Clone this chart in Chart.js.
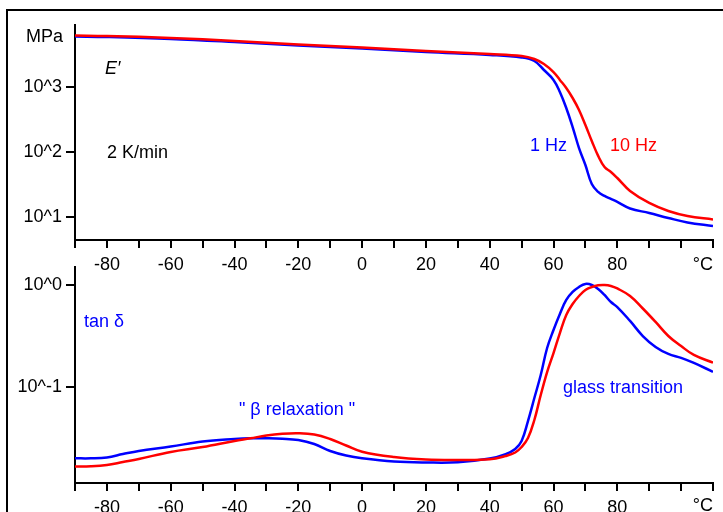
<!DOCTYPE html>
<html><head><meta charset="utf-8">
<script src="https://cdn.jsdelivr.net/npm/chart.js@4/dist/chart.umd.min.js"></script>
<style>
html,body{margin:0;padding:0;background:#fff;overflow:hidden;width:723px;height:512px;}
#frame{position:absolute;left:6px;top:9px;width:800px;height:600px;border-top:2px solid #000;border-left:2px solid #000;}
canvas{position:absolute;left:0;}
#c1{top:0}
#c2{top:245px}
</style></head><body>
<div id="frame"></div>
<canvas id="c1" width="723" height="280"></canvas>
<canvas id="c2" width="723" height="267"></canvas>
<script>
// ---- data ----
const xTickValues = [-90,-80,-70,-60,-50,-40,-30,-20,-10,0,10,20,30,40,50,60,70,80,90,100,110];
const xLabelValues = [-80,-60,-40,-20,0,20,40,60,80];
const eTemps = [-90,-80,-60,-40,-20,0,20,40,50,54,57,60,62,64,66,68,70,72,74,76,78,80,84,90,96,102,110];
const E_1Hz  = [6100,5990,5580,5010,4430,3980,3510,3160,2890,2550,1850,1300,846,479,243,115,63.0,32.0,24.1,20.9,18.8,16.9,13.4,11.4,9.55,8.14,7.18];
const E_10Hz = [6320,6210,5780,5200,4590,4120,3640,3270,3050,2740,2290,1720,1300,975,683,446,261,148,87,58.6,49.1,39.6,25.0,16.3,12.25,10.25,9.05];
const eTicks = [10,100,1000];
const tTemps = [-90,-85,-80,-75,-70,-60,-50,-40,-35,-30,-25,-20,-15,-10,-5,0,10,20,30,40,45,48,50,52,54,56,58,60,62,64,66,68,70,72,74,76,78,80,84,88,92,96,100,104,110];
const tan_1Hz  = [0.0200,0.0200,0.0204,0.0220,0.0236,0.0261,0.0292,0.0309,0.0314,0.0314,0.0311,0.0302,0.0276,0.0236,0.0213,0.0200,0.0186,0.0182,0.0183,0.0199,0.0220,0.0247,0.0296,0.0464,0.0780,0.131,0.241,0.362,0.520,0.713,0.854,0.956,1.023,1.0,0.914,0.798,0.681,0.608,0.444,0.316,0.247,0.211,0.193,0.172,0.141];
const tan_10Hz = [0.0166,0.0167,0.0172,0.0184,0.0197,0.0231,0.0258,0.0296,0.0314,0.0335,0.0348,0.0352,0.0342,0.0309,0.0267,0.0232,0.0206,0.0195,0.0193,0.0196,0.0211,0.0228,0.0258,0.0316,0.0475,0.0835,0.140,0.215,0.338,0.508,0.651,0.780,0.894,0.956,0.993,1.0,0.978,0.924,0.780,0.588,0.434,0.316,0.252,0.206,0.173];
const tanTicks = [0.1,1];

// ---- styling ----
const FONT = 'Liberation Sans, Arial, Helvetica, sans-serif';
const BLUE = '#0000ff', RED = '#ff0000';
const pts = (xs, ys) => xs.map((x,i)=>({x, y: ys[i]}));

function xScale(h){
  return { type:'linear', position:'bottom', min:-90, max:110,
    afterBuildTicks: s => { s.ticks = xTickValues.map(v=>({value:v})); },
    afterFit: s => { s.height = h; },
    grid:{drawOnChartArea:false, drawTicks:true, tickLength:8, color:'#000', lineWidth:2},
    border:{display:true, color:'#000', width:2},
    ticks:{autoSkip:false, maxRotation:0, minRotation:0, color:'#000', padding:6,
      font:{family:FONT, size:18},
      callback: v => xLabelValues.includes(v) ? String(v) : ''}
  };
}
function yScale(min, max, tickVals){
  return { type:'logarithmic', position:'left', min, max,
    afterBuildTicks: s => { s.ticks = tickVals.map(v=>({value:v})); },
    afterFit: s => { s.width = 75; },
    grid:{drawOnChartArea:false, drawTicks:true, tickLength:9, color:'#000', lineWidth:2},
    border:{display:true, color:'#000', width:2},
    ticks:{color:'#000', padding:4, font:{family:FONT, size:18},
      callback: v => '10^' + Math.round(Math.log10(v))}
  };
}
function textPlugin(items){
  return { id:'txt', afterDraw(chart){
    const ctx = chart.ctx;
    items.forEach(t=>{
      ctx.save();
      ctx.font = (t.italic ? 'italic ' : '') + '18px ' + FONT;
      ctx.fillStyle = t.color || '#000';
      ctx.textAlign = t.align || 'left';
      ctx.textBaseline = 'middle';
      ctx.fillText(t.text, t.x, t.y);
      ctx.restore();
    });
  }};
}
function ds(label, data, color, order){
  return {label, data, borderColor:color, backgroundColor:color, borderWidth:2.5,
    pointRadius:0, tension:0.4, fill:false, order};
}
const common = { responsive:false, animation:false,
  plugins:{legend:{display:false}, tooltip:{enabled:false}} };

new Chart(document.getElementById('c1'), {
  type:'line',
  data:{datasets:[ ds('10 Hz', pts(eTemps,E_10Hz), RED, 0), ds('1 Hz', pts(eTemps,E_1Hz), BLUE, 1) ]},
  options:Object.assign({}, common, {
    layout:{padding:{left:0,right:10,top:25,bottom:0}},
    scales:{ x:xScale(40), y:yScale(4.36, 9180, eTicks) }
  }),
  plugins:[textPlugin([
    {text:'MPa', x:63, y:37, align:'right'},
    {text:'E\u2032', x:105, y:69, italic:true},
    {text:'2 K/min', x:107, y:153},
    {text:'1 Hz', x:530, y:146, color:BLUE},
    {text:'10 Hz', x:610, y:146, color:RED},
    {text:'\u00B0C', x:713, y:265, align:'right'}
  ])]
});

new Chart(document.getElementById('c2'), {
  type:'line',
  data:{datasets:[ ds('10 Hz', pts(tTemps,tan_10Hz), RED, 0), ds('1 Hz', pts(tTemps,tan_1Hz), BLUE, 1) ]},
  options:Object.assign({}, common, {
    layout:{padding:{left:0,right:10,top:22,bottom:0}},
    scales:{ x:xScale(29), y:yScale(0.01146, 1.50, tanTicks) }
  }),
  plugins:[textPlugin([
    {text:'tan \u03B4', x:84, y:77, color:BLUE},
    {text:'" \u03B2 relaxation "', x:297, y:165, align:'center', color:BLUE},
    {text:'glass transition', x:563, y:143, color:BLUE},
    {text:'\u00B0C', x:713, y:261, align:'right'}
  ])]
});
</script>
</body></html>
